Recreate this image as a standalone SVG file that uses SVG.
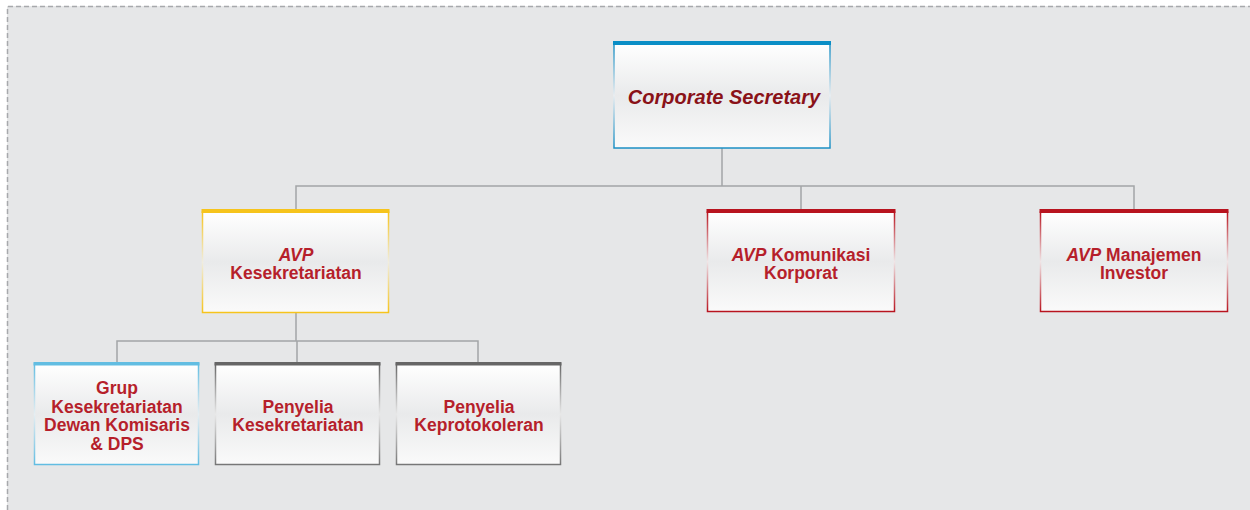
<svg xmlns="http://www.w3.org/2000/svg" width="1250" height="510" viewBox="0 0 1250 510">
<defs>
<linearGradient id="fill" x1="0" y1="0" x2="0" y2="1">
<stop offset="0" stop-color="#ffffff"/>
<stop offset="0.5" stop-color="#e9eaeb"/>
<stop offset="1" stop-color="#fafafa"/>
</linearGradient>
<linearGradient id="sBlue" x1="0" y1="0" x2="0" y2="1">
<stop offset="0" stop-color="#1a8fc4"/>
<stop offset="0.5" stop-color="#e9eef2"/>
<stop offset="1" stop-color="#1a8fc4"/>
</linearGradient>
<linearGradient id="sYellow" x1="0" y1="0" x2="0" y2="1">
<stop offset="0" stop-color="#f6c41c"/>
<stop offset="0.5" stop-color="#f0ede0"/>
<stop offset="1" stop-color="#f6c41c"/>
</linearGradient>
<linearGradient id="sRed" x1="0" y1="0" x2="0" y2="1">
<stop offset="0" stop-color="#b8141f"/>
<stop offset="0.5" stop-color="#f0e6e7"/>
<stop offset="1" stop-color="#b8141f"/>
</linearGradient>
<linearGradient id="sLBlue" x1="0" y1="0" x2="0" y2="1">
<stop offset="0" stop-color="#62bde2"/>
<stop offset="0.5" stop-color="#e6eef2"/>
<stop offset="1" stop-color="#62bde2"/>
</linearGradient>
<linearGradient id="sGray" x1="0" y1="0" x2="0" y2="1">
<stop offset="0" stop-color="#666666"/>
<stop offset="0.5" stop-color="#e8e8e8"/>
<stop offset="1" stop-color="#777777"/>
</linearGradient>
</defs>
<style>
.bg{fill:#e6e7e8}
.dash{stroke:#a7a9ac;stroke-width:1.5;stroke-dasharray:5 3;fill:none}
.box{fill:url(#fill);stroke-width:1.5}
.conn{stroke:#a3a5a7;stroke-width:1.5;fill:none}
.t{font-family:"Liberation Sans",Arial,sans-serif;font-weight:bold;font-size:17.5px;fill:#b61f2b;text-anchor:middle}
.i{font-style:italic}
.top{fill:#8a1218;font-size:20px}
</style>
<rect x="0" y="0" width="1250" height="510" fill="#ffffff"/>
<rect class="bg" x="7" y="6" width="1243" height="504"/>
<path class="dash" d="M7.5 510 V6.5 H1250"/>
<g id="connectors">
<path class="conn" d="M722 148 V186 M296 210 V186 H1134 V210 M801 186 V210"/>
<path class="conn" d="M296 313 V341 M117 363 V341 H478 V363 M297 341 V363"/>
</g>
<g id="n-corpsec">
<rect class="box" x="614" y="43" width="216" height="105" stroke="url(#sBlue)"/>
<rect x="613" y="41" width="218" height="4" fill="#0a8ec6"/>
<text class="t i top" x="724" y="104">Corporate Secretary</text>
</g>
<g id="n-avp-kes">
<rect class="box" x="202.5" y="212" width="186" height="100.5" stroke="url(#sYellow)"/>
<rect x="201.5" y="209" width="188" height="4" fill="#f6c41c"/>
<text class="t" x="296" y="261"><tspan class="i">AVP</tspan></text>
<text class="t" x="296" y="279">Kesekretariatan</text>
</g>
<g id="n-avp-kom">
<rect class="box" x="707.5" y="212" width="187" height="99.5" stroke="url(#sRed)"/>
<rect x="706.5" y="209" width="189" height="4" fill="#b8141f"/>
<text class="t" x="801" y="261"><tspan class="i">AVP</tspan> Komunikasi</text>
<text class="t" x="801" y="279">Korporat</text>
</g>
<g id="n-avp-man">
<rect class="box" x="1040.5" y="212" width="187" height="99.5" stroke="url(#sRed)"/>
<rect x="1039.5" y="209" width="189" height="4" fill="#b8141f"/>
<text class="t" x="1134" y="261"><tspan class="i">AVP</tspan> Manajemen</text>
<text class="t" x="1134" y="279">Investor</text>
</g>
<g id="n-grup">
<rect class="box" x="34.5" y="364" width="164" height="100.5" stroke="url(#sLBlue)"/>
<rect x="33.5" y="362" width="166" height="3.5" fill="#62bde2"/>
<text class="t" x="117" y="394">Grup</text>
<text class="t" x="117" y="413">Kesekretariatan</text>
<text class="t" x="117" y="431">Dewan Komisaris</text>
<text class="t" x="117" y="450">&amp; DPS</text>
</g>
<g id="n-pen-kes">
<rect class="box" x="215.5" y="364" width="164" height="100.5" stroke="url(#sGray)"/>
<rect x="214.5" y="362" width="166" height="3.5" fill="#666666"/>
<text class="t" x="298" y="413">Penyelia</text>
<text class="t" x="298" y="431">Kesekretariatan</text>
</g>
<g id="n-pen-kep">
<rect class="box" x="396.5" y="364" width="164" height="100.5" stroke="url(#sGray)"/>
<rect x="395.5" y="362" width="166" height="3.5" fill="#666666"/>
<text class="t" x="479" y="413">Penyelia</text>
<text class="t" x="479" y="431">Keprotokoleran</text>
</g>
</svg>
